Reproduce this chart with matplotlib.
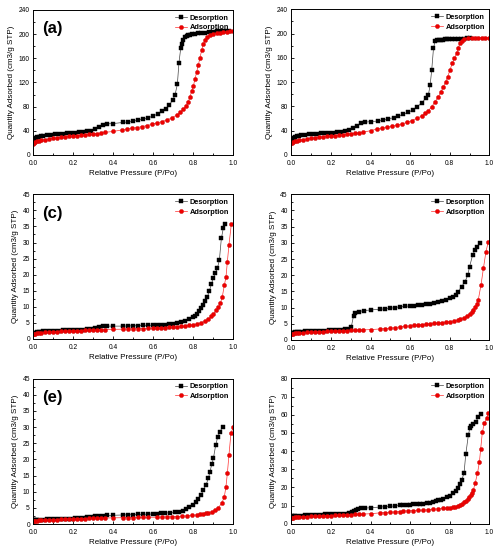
import matplotlib
matplotlib.use("Agg")
import matplotlib.pyplot as plt
from matplotlib.ticker import MultipleLocator, FormatStrFormatter

plt.rcParams['font.family'] = ['Liberation Sans', 'DejaVu Sans']

# ---- data (P/Po, quantity adsorbed) ----
a_des_p = [0.0, 0.005, 0.01, 0.015, 0.02, 0.03, 0.04, 0.05, 0.07, 0.09, 0.11, 0.13, 0.15, 0.17, 0.19, 0.21, 0.23, 0.25, 0.27, 0.29,
           0.31, 0.33, 0.35, 0.37, 0.40, 0.45, 0.475, 0.50, 0.525, 0.55, 0.575, 0.60, 0.622, 0.642, 0.662, 0.68, 0.697, 0.708, 0.72, 0.728,
           0.737, 0.742, 0.75, 0.758, 0.767, 0.775, 0.785, 0.795, 0.81, 0.825, 0.84, 0.86, 0.88, 0.90, 0.92, 0.94, 0.96, 0.98]
a_des_q = [21, 24, 26, 28, 29, 30, 31, 32, 33, 33.5, 34, 35, 35.5, 36, 36.5, 37, 37.5, 38, 39, 40.5,
           43, 47, 50, 51.5, 52, 54, 54.6, 56, 58, 59.6, 61.8, 64.5, 68, 72, 76, 83, 91, 99, 117, 153,
           177, 183, 191, 195, 197, 198, 199, 200, 201, 201.5, 202, 202.5, 203, 204, 204.5, 205, 205.5, 206]
a_ads_p = [0.0, 0.005, 0.01, 0.02, 0.03, 0.04, 0.06, 0.08, 0.10, 0.12, 0.14, 0.16, 0.18, 0.20, 0.22, 0.24, 0.26, 0.28, 0.30, 0.32,
           0.34, 0.36, 0.40, 0.442, 0.467, 0.492, 0.517, 0.542, 0.567, 0.592, 0.617, 0.642, 0.667, 0.692, 0.717, 0.733, 0.75, 0.763, 0.775, 0.783,
           0.792, 0.80, 0.808, 0.817, 0.825, 0.833, 0.842, 0.85, 0.858, 0.87, 0.883, 0.90, 0.917, 0.933, 0.95, 0.967, 0.983, 1.0]
a_ads_q = [18, 19.5, 21, 22.5, 23.5, 24.5, 25.5, 26.5, 27.5, 28.5, 29.5, 30, 31, 31.5, 32, 33, 33.5, 34, 35, 35.5,
           36.5, 37.5, 39, 41.4, 42.5, 44.2, 45.3, 47, 48.6, 50.8, 53, 55.2, 58, 61.3, 66.2, 70.6, 75.6, 81.1, 88.3, 96.6,
           106, 114, 125.8, 138, 149, 161, 173.8, 183.8, 190, 196, 198.7, 200.3, 201.5, 202, 203, 203.6, 204.5, 205]

b_des_p = [0.0, 0.005, 0.01, 0.015, 0.02, 0.03, 0.04, 0.05, 0.07, 0.09, 0.11, 0.13, 0.15, 0.17, 0.19, 0.21, 0.23, 0.25, 0.27, 0.29,
           0.31, 0.33, 0.35, 0.37, 0.40, 0.44, 0.465, 0.49, 0.516, 0.541, 0.566, 0.591, 0.613, 0.637, 0.659, 0.679, 0.692, 0.701, 0.709, 0.718,
           0.726, 0.735, 0.745, 0.755, 0.765, 0.775, 0.785, 0.795, 0.81, 0.825, 0.84, 0.855, 0.87, 0.885, 0.904]
b_des_q = [23, 25, 27, 28.5, 29.5, 31, 32, 32.5, 33.5, 34, 34.5, 35, 35.5, 36, 36.5, 37, 37.5, 38, 39, 41,
           44, 48, 52, 54, 55, 56, 57.7, 59.3, 61.5, 63.7, 67, 70.3, 74.1, 79.6, 86.2, 93.3, 98.8, 115, 140, 175.8,
           187.9, 189.5, 189.8, 190, 190.2, 190.3, 190.4, 190.5, 190.6, 190.7, 190.8, 191, 191.3, 192, 193.3]
b_ads_p = [0.0, 0.005, 0.01, 0.02, 0.03, 0.04, 0.06, 0.08, 0.10, 0.12, 0.14, 0.16, 0.18, 0.20, 0.22, 0.24, 0.26, 0.28, 0.30, 0.32,
           0.34, 0.36, 0.40, 0.431, 0.456, 0.482, 0.507, 0.532, 0.558, 0.583, 0.608, 0.633, 0.659, 0.675, 0.692, 0.709, 0.726, 0.743, 0.756, 0.768,
           0.78, 0.79, 0.801, 0.813, 0.823, 0.835, 0.843, 0.852, 0.86, 0.874, 0.894, 0.911, 0.928, 0.945, 0.961, 0.98, 1.0]
b_ads_q = [19, 20, 21, 22.5, 23.5, 24.5, 25.5, 26.5, 27.5, 28.5, 29.5, 30, 31, 31.5, 32, 33, 33.5, 34, 35, 35.5,
           36.5, 37.5, 40, 42.8, 43.9, 45.5, 47.2, 48.8, 51, 53.8, 56.5, 60.4, 64.2, 68.6, 73, 79.6, 87.9, 96.1, 104.4, 112.6,
           120.8, 129.1, 140, 151, 159.3, 167.5, 176.9, 184, 188.4, 190.6, 192.3, 192.5, 192.8, 193, 193.3, 193.3, 193.5]

c_des_p = [0.0, 0.005, 0.01, 0.02, 0.03, 0.04, 0.05, 0.07, 0.09, 0.11, 0.13, 0.15, 0.17, 0.19, 0.21, 0.23, 0.25, 0.27, 0.29, 0.31,
           0.33, 0.35, 0.37, 0.40, 0.45, 0.475, 0.50, 0.525, 0.55, 0.575, 0.60, 0.62, 0.64, 0.66, 0.68, 0.70, 0.72, 0.74, 0.76, 0.78,
           0.80, 0.81, 0.82, 0.83, 0.84, 0.85, 0.86, 0.87, 0.88, 0.89, 0.90, 0.91, 0.92, 0.93, 0.94, 0.95, 0.96]
c_des_q = [1.6, 1.8, 2.0, 2.1, 2.2, 2.3, 2.35, 2.4, 2.5, 2.55, 2.6, 2.65, 2.7, 2.75, 2.8, 2.85, 2.9, 3.0, 3.1, 3.4,
           3.7, 3.9, 4.0, 4.0, 4.0, 4.05, 4.1, 4.15, 4.2, 4.25, 4.3, 4.35, 4.4, 4.5, 4.6, 4.8, 5.0, 5.3, 5.7, 6.2,
           6.8, 7.3, 7.9, 8.6, 9.5, 10.5, 11.8, 13.0, 15.0, 17.0, 19.0, 20.5, 22.0, 24.5, 31.3, 34.5, 35.8]
c_ads_p = [0.0, 0.005, 0.01, 0.02, 0.03, 0.04, 0.06, 0.08, 0.10, 0.12, 0.14, 0.16, 0.18, 0.20, 0.22, 0.24, 0.26, 0.28, 0.30, 0.32,
           0.34, 0.36, 0.40, 0.45, 0.475, 0.50, 0.525, 0.55, 0.575, 0.60, 0.62, 0.64, 0.66, 0.68, 0.70, 0.72, 0.74, 0.76, 0.78, 0.80,
           0.82, 0.84, 0.86, 0.875, 0.89, 0.90, 0.915, 0.925, 0.935, 0.945, 0.955, 0.963, 0.97, 0.978, 0.99]
c_ads_q = [1.4, 1.5, 1.6, 1.75, 1.85, 1.95, 2.05, 2.15, 2.2, 2.3, 2.35, 2.4, 2.45, 2.5, 2.55, 2.6, 2.65, 2.7, 2.75, 2.8,
           2.85, 2.9, 3.0, 3.05, 3.1, 3.15, 3.2, 3.25, 3.3, 3.4, 3.45, 3.5, 3.55, 3.6, 3.7, 3.8, 3.9, 4.0, 4.2, 4.4,
           4.7, 5.1, 5.6, 6.2, 7.0, 7.8, 8.9, 9.9, 11.1, 13.2, 16.8, 19.2, 24.0, 29.3, 35.8]

d_des_p = [0.0, 0.005, 0.01, 0.02, 0.03, 0.04, 0.05, 0.07, 0.09, 0.11, 0.13, 0.15, 0.17, 0.19, 0.21, 0.23, 0.25, 0.27, 0.29, 0.303,
           0.314, 0.323, 0.34, 0.365, 0.40, 0.45, 0.475, 0.50, 0.525, 0.549, 0.575, 0.60, 0.62, 0.64, 0.66, 0.68, 0.70, 0.72, 0.74, 0.76,
           0.78, 0.80, 0.818, 0.83, 0.843, 0.86, 0.877, 0.891, 0.90, 0.916, 0.928, 0.94, 0.953]
d_des_q = [2.0, 2.2, 2.3, 2.4, 2.5, 2.55, 2.6, 2.65, 2.7, 2.75, 2.8, 2.85, 2.9, 2.95, 3.0, 3.1, 3.2, 3.3, 3.5, 4.1,
           7.4, 8.2, 8.75, 9.06, 9.27, 9.5, 9.6, 9.8, 10.0, 10.3, 10.4, 10.5, 10.6, 10.75, 10.9, 11.0, 11.2, 11.4, 11.7, 12.0,
           12.4, 12.9, 13.4, 14.0, 14.9, 16.5, 18.0, 20.0, 22.6, 26.3, 27.8, 28.8, 30.0]
d_ads_p = [0.0, 0.005, 0.01, 0.02, 0.03, 0.04, 0.06, 0.08, 0.10, 0.12, 0.14, 0.16, 0.18, 0.20, 0.22, 0.24, 0.26, 0.28, 0.30, 0.32,
           0.34, 0.36, 0.40, 0.45, 0.475, 0.50, 0.525, 0.549, 0.575, 0.60, 0.62, 0.64, 0.66, 0.68, 0.70, 0.72, 0.74, 0.76, 0.78, 0.80,
           0.82, 0.84, 0.852, 0.87, 0.886, 0.90, 0.911, 0.92, 0.928, 0.936, 0.944, 0.958, 0.97, 0.983, 0.995]
d_ads_q = [1.7, 1.8, 1.9, 2.0, 2.1, 2.2, 2.3, 2.4, 2.45, 2.5, 2.55, 2.6, 2.65, 2.7, 2.75, 2.8, 2.85, 2.9, 2.95, 3.0,
           3.05, 3.1, 3.2, 3.4, 3.5, 3.6, 3.8, 4.1, 4.2, 4.35, 4.5, 4.6, 4.75, 4.9, 5.0, 5.1, 5.2, 5.35, 5.5, 5.65,
           5.85, 6.1, 6.4, 6.9, 7.4, 8.0, 8.7, 9.3, 10.3, 11.2, 12.35, 17.0, 22.1, 27.3, 30.4]

e_des_p = [0.0, 0.005, 0.01, 0.02, 0.03, 0.05, 0.07, 0.09, 0.11, 0.13, 0.15, 0.17, 0.19, 0.21, 0.23, 0.25, 0.27, 0.29, 0.31, 0.33,
           0.35, 0.37, 0.40, 0.45, 0.475, 0.50, 0.525, 0.55, 0.575, 0.60, 0.62, 0.64, 0.66, 0.683, 0.708, 0.73, 0.747, 0.763, 0.78, 0.797,
           0.812, 0.825, 0.838, 0.85, 0.863, 0.875, 0.883, 0.892, 0.90, 0.912, 0.922, 0.933, 0.947]
e_des_q = [1.1, 1.15, 1.2, 1.25, 1.3, 1.35, 1.4, 1.45, 1.5, 1.55, 1.6, 1.65, 1.7, 1.75, 1.85, 1.95, 2.05, 2.2, 2.35, 2.5,
           2.6, 2.65, 2.7, 2.8, 2.85, 2.9, 2.95, 3.0, 3.05, 3.1, 3.2, 3.3, 3.4, 3.5, 3.6, 3.8, 4.1, 4.5, 5.2, 5.9,
           6.7, 7.7, 9.0, 10.5, 12.1, 14.1, 16.2, 18.5, 20.3, 24.5, 27.0, 28.6, 30.1]
e_ads_p = [0.0, 0.005, 0.01, 0.02, 0.03, 0.04, 0.06, 0.08, 0.10, 0.12, 0.14, 0.16, 0.18, 0.20, 0.22, 0.24, 0.26, 0.28, 0.30, 0.32,
           0.34, 0.36, 0.40, 0.45, 0.475, 0.50, 0.525, 0.55, 0.575, 0.617, 0.642, 0.667, 0.692, 0.717, 0.742, 0.767, 0.792, 0.817, 0.835, 0.85,
           0.863, 0.875, 0.892, 0.908, 0.925, 0.942, 0.955, 0.963, 0.97, 0.978, 0.988, 1.0]
e_ads_q = [0.9, 0.95, 1.0, 1.05, 1.1, 1.15, 1.2, 1.25, 1.3, 1.35, 1.4, 1.45, 1.5, 1.55, 1.6, 1.65, 1.7, 1.72, 1.75, 1.78,
           1.8, 1.85, 1.9, 1.95, 1.98, 2.0, 2.03, 2.06, 2.08, 2.1, 2.15, 2.2, 2.25, 2.3, 2.4, 2.5, 2.65, 2.8, 2.95, 3.1,
           3.3, 3.5, 3.8, 4.3, 5.1, 6.4, 8.5, 11.6, 15.7, 21.4, 28.1, 30.1]

f_des_p = [0.0, 0.005, 0.01, 0.02, 0.03, 0.05, 0.07, 0.09, 0.11, 0.13, 0.15, 0.17, 0.19, 0.21, 0.23, 0.25, 0.27, 0.29, 0.305, 0.315,
           0.325, 0.335, 0.35, 0.37, 0.40, 0.45, 0.475, 0.50, 0.525, 0.549, 0.566, 0.583, 0.60, 0.616, 0.633, 0.65, 0.667, 0.684, 0.70, 0.717,
           0.73, 0.742, 0.755, 0.768, 0.785, 0.801, 0.818, 0.832, 0.843, 0.852, 0.86, 0.872, 0.881, 0.894, 0.902, 0.908, 0.919, 0.933, 0.944, 0.958]
f_des_q = [3.8, 4.0, 4.1, 4.2, 4.3, 4.5, 4.6, 4.7, 4.8, 4.9, 5.0, 5.1, 5.2, 5.3, 5.4, 5.5, 5.6, 5.8, 6.5, 7.2,
           7.8, 8.2, 8.5, 8.6, 8.8, 9.2, 9.4, 9.6, 9.8, 10.1, 10.2, 10.3, 10.45, 10.6, 10.75, 10.9, 11.1, 11.3, 11.6, 12.0,
           12.4, 12.8, 13.2, 13.7, 14.5, 15.4, 16.7, 18.0, 19.5, 21.7, 24.0, 27.7, 38.2, 48.8, 52.8, 53.8, 54.7, 56.1, 58.9, 60.2]
f_ads_p = [0.0, 0.005, 0.01, 0.02, 0.03, 0.04, 0.06, 0.08, 0.10, 0.12, 0.14, 0.16, 0.18, 0.20, 0.22, 0.24, 0.26, 0.28, 0.30, 0.32,
           0.34, 0.36, 0.40, 0.45, 0.475, 0.50, 0.525, 0.549, 0.566, 0.591, 0.616, 0.641, 0.667, 0.692, 0.717, 0.742, 0.768, 0.785, 0.801, 0.815,
           0.827, 0.84, 0.852, 0.863, 0.874, 0.883, 0.891, 0.899, 0.906, 0.913, 0.919, 0.928, 0.94, 0.95, 0.956, 0.965, 0.975, 0.987, 0.995]
f_ads_q = [3.2, 3.3, 3.4, 3.5, 3.6, 3.7, 3.8, 3.9, 4.0, 4.1, 4.2, 4.3, 4.4, 4.5, 4.6, 4.7, 4.8, 4.9, 5.0, 5.1,
           5.2, 5.3, 5.5, 6.0, 6.1, 6.3, 6.5, 6.7, 7.0, 7.1, 7.2, 7.35, 7.5, 7.7, 7.9, 8.2, 8.5, 8.7, 8.8, 9.1,
           9.4, 9.8, 10.3, 11.0, 11.8, 12.7, 13.6, 14.6, 15.8, 17.1, 18.5, 22.2, 27.7, 34.1, 40.9, 50.6, 55.2, 58.3, 60.7]

# panel setup: (data, ymax, major, minor, label, axes rect in figure fraction)
panels = [
    (a_des_p, a_des_q, a_ads_p, a_ads_q, 240, 40, 20, "(a)", [0.067, 0.7187, 0.4016, 0.2632]),
    (b_des_p, b_des_q, b_ads_p, b_ads_q, 240, 40, 20, "", [0.585, 0.7187, 0.3976, 0.2644]),
    (c_des_p, c_des_q, c_ads_p, c_ads_q, 45, 5, 2.5, "(c)", [0.067, 0.3848, 0.4016, 0.2626]),
    (d_des_p, d_des_q, d_ads_p, d_ads_q, 45, 5, 2.5, "", [0.585, 0.3830, 0.3976, 0.2644]),
    (e_des_p, e_des_q, e_ads_p, e_ads_q, 45, 5, 2.5, "(e)", [0.067, 0.0490, 0.4016, 0.2637]),
    (f_des_p, f_des_q, f_ads_p, f_ads_q, 80, 10, 5, "", [0.585, 0.0495, 0.3976, 0.2637]),
]

fig = plt.figure(figsize=(4.98, 5.51), dpi=100)

for des_p, des_q, ads_p, ads_q, ymax, major, minor, label, rect in panels:
    ax = fig.add_axes(rect)
    ax.plot(des_p, des_q, color='#444444', lw=0.5, marker='s', ms=2.8,
            mfc='black', mec='black', mew=0.3, label='Desorption')
    ax.plot(ads_p, ads_q, color='#ff3030', lw=0.5, marker='o', ms=3.0,
            mfc='#ee0000', mec='#cc1010', mew=0.3, label='Adsorption')
    ax.set_xlim(0, 1.0)
    ax.set_ylim(0, ymax)
    ax.xaxis.set_major_locator(MultipleLocator(0.2))
    ax.xaxis.set_minor_locator(MultipleLocator(0.1))
    ax.xaxis.set_major_formatter(FormatStrFormatter('%.1f'))
    ax.yaxis.set_major_locator(MultipleLocator(major))
    ax.yaxis.set_minor_locator(MultipleLocator(minor))
    ax.tick_params(which='both', direction='in', labelsize=4.8, width=0.6)
    ax.tick_params(axis='x', pad=3.5)
    ax.tick_params(axis='y', pad=2.5)
    ax.tick_params(which='major', length=2.5)
    ax.tick_params(which='minor', length=1.3)
    for s in ax.spines.values():
        s.set_linewidth(0.7)
    ax.set_xlabel('Relative Pressure (P/Po)', fontsize=5.8, labelpad=2.5)
    ax.set_ylabel('Quantity Adsorbed (cm3/g STP)', fontsize=5.8, labelpad=2.5)
    leg = ax.legend(loc='upper right', frameon=False, fontsize=5.3, handlelength=1.6,
                    handletextpad=0.4, labelspacing=0.35, borderaxespad=0.2)
    for t in leg.get_texts():
        t.set_fontweight('bold')
    if label:
        ax.text(0.045, 0.87, label, transform=ax.transAxes, fontsize=12,
                fontweight='bold', va='center', ha='left')

fig.savefig('out.png', dpi=100)
